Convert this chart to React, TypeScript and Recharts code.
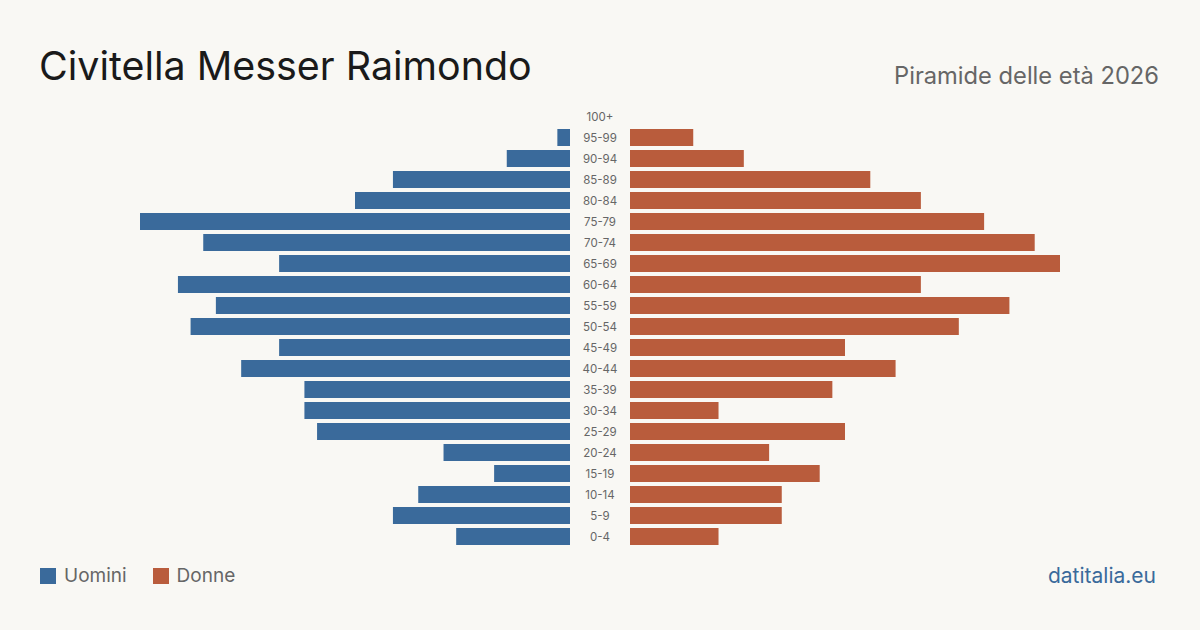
import { Bar, BarChart, XAxis, YAxis } from "recharts";

const ageGroups = [
  "100+", "95-99", "90-94", "85-89", "80-84", "75-79", "70-74", "65-69", "60-64", "55-59",
  "50-54", "45-49", "40-44", "35-39", "30-34", "25-29", "20-24", "15-19", "10-14", "5-9", "0-4",
];
const men = [0, 1, 5, 14, 17, 34, 29, 23, 31, 28, 30, 23, 26, 21, 21, 20, 10, 6, 12, 14, 9];
const women = [0, 5, 9, 19, 23, 28, 32, 34, 23, 30, 26, 17, 21, 16, 7, 17, 11, 15, 12, 12, 7];

const MAX = 34;
const BLUE = "#3a6a9b";
const ORANGE = "#b95c3c";
const FONT = "Inter, 'Noto Sans', sans-serif";

const data = ageGroups.map((age, i) => ({ age, m: men[i], f: women[i] }));

const AgeTick = ({ y, payload }: any) => (
  <text x={30} y={y} dy={4} textAnchor="middle" fontSize={11.5} fill="#666" fontFamily={FONT}>
    {payload.value}
  </text>
);

export default function App() {
  return (
    <div
      style={{
        position: "absolute",
        left: 0,
        top: 0,
        width: 1200,
        height: 630,
        background: "#f9f8f4",
        fontFamily: FONT,
        overflow: "hidden",
      }}
    >
      <div style={{ position: "absolute", left: 39, top: 40, fontSize: 39.4, color: "#1a1a1a", lineHeight: "52px" }}>
        Civitella Messer Raimondo
      </div>
      <div style={{ position: "absolute", right: 41, top: 61, fontSize: 23.7, color: "#666", lineHeight: "30px" }}>
        Piramide delle età 2026
      </div>

      <div style={{ position: "absolute", left: 140, top: 105.5 }}>
        <BarChart width={430} height={441} data={data} layout="vertical" margin={{ top: 0, right: 0, bottom: 0, left: 0 }}>
          <XAxis type="number" domain={[0, MAX]} reversed hide />
          <YAxis type="category" dataKey="age" hide />
          <Bar dataKey="m" fill={BLUE} barSize={17} isAnimationActive={false} />
        </BarChart>
      </div>

      <div style={{ position: "absolute", left: 570, top: 105.5 }}>
        <BarChart width={490} height={441} data={data} layout="vertical" margin={{ top: 0, right: 0, bottom: 0, left: 0 }}>
          <XAxis type="number" domain={[0, MAX]} hide />
          <YAxis type="category" dataKey="age" width={60} axisLine={false} tickLine={false} tick={<AgeTick />} interval={0} />
          <Bar dataKey="f" fill={ORANGE} barSize={17} isAnimationActive={false} />
        </BarChart>
      </div>

      <div style={{ position: "absolute", left: 40, top: 564, display: "flex", alignItems: "center", fontSize: 19, color: "#666", lineHeight: "24px" }}>
        <span style={{ width: 16, height: 16, background: BLUE, display: "inline-block", marginRight: 8 }} />
        <span style={{ marginRight: 26 }}>Uomini</span>
        <span style={{ width: 16, height: 16, background: ORANGE, display: "inline-block", marginRight: 8 }} />
        <span>Donne</span>
      </div>
      <div style={{ position: "absolute", right: 44, top: 562, fontSize: 21, color: BLUE, lineHeight: "28px" }}>
        datitalia.eu
      </div>
    </div>
  );
}
